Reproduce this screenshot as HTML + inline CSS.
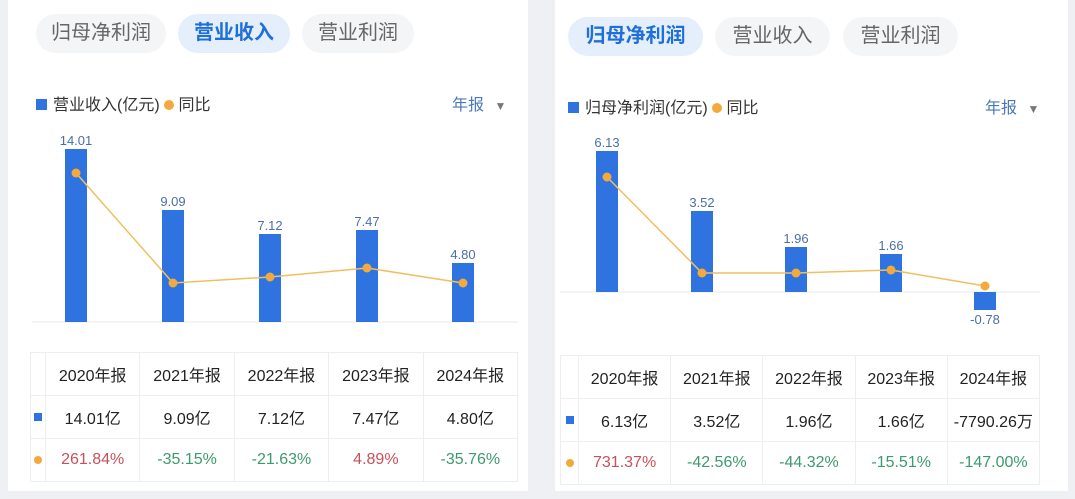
<!DOCTYPE html>
<html><head><meta charset="utf-8"><style>
body{margin:0;width:1075px;height:499px;background:#eef0f3;position:relative;overflow:hidden;font-family:"Liberation Sans","Noto Sans CJK SC",sans-serif}
.card{position:absolute;background:#fff}
.pill{position:absolute;height:39px;border-radius:20px;background:#f4f5f7;color:#666;font-size:20px;line-height:39px;text-align:center}
.pill.a{background:#e5effb;color:#1e6fd9;font-weight:bold}
.a2{position:absolute;font-size:16px;color:#333;white-space:nowrap}
.t{position:absolute;font-size:13px;color:#4a6fa8;text-align:center;width:50px}
table{position:absolute;border-collapse:collapse;font-size:16px;color:#222;table-layout:fixed}
td{border:1px solid #eceef1;text-align:center;padding:0;white-space:nowrap}
.r{color:#c9505a}.g{color:#3c9a6e}
</style></head><body>
<div class="card" style="left:8px;top:0;width:520px;height:491px"></div>
<div class="card" style="left:555px;top:0;width:513px;height:491px"></div>

<div class="pill" style="left:36px;top:14px;width:130px">归母净利润</div>
<div class="pill a" style="left:178px;top:14px;width:112px">营业收入</div>
<div class="pill" style="left:302px;top:14px;width:112px">营业利润</div>

<div class="pill a" style="left:568px;top:17px;width:135px">归母净利润</div>
<div class="pill" style="left:715px;top:17px;width:115px">营业收入</div>
<div class="pill" style="left:843px;top:17px;width:115px">营业利润</div>

<div class="a2" style="left:36px;top:91px"><span style="display:inline-block;width:11px;height:11px;background:#2f73e0;margin-right:6px"></span>营业收入(亿元) <span style="display:inline-block;width:10px;height:10px;border-radius:5px;background:#f3a93b"></span> 同比</div>
<div class="a2" style="left:452px;top:91px;color:#4a78b8">年报 <span style="color:#777;font-size:12px;margin-left:6px">▼</span></div>
<div class="a2" style="left:568px;top:94px"><span style="display:inline-block;width:11px;height:11px;background:#2f73e0;margin-right:6px"></span>归母净利润(亿元) <span style="display:inline-block;width:10px;height:10px;border-radius:5px;background:#f3a93b"></span> 同比</div>
<div class="a2" style="left:985px;top:94px;color:#4a78b8">年报 <span style="color:#777;font-size:12px;margin-left:6px">▼</span></div>

<svg style="position:absolute;left:0;top:0" width="1075" height="499">
<line x1="32" y1="322" x2="518" y2="322" stroke="#e6e8eb"/>
<g fill="#2f73e0">
<rect x="65" y="149" width="22" height="173"/><rect x="162" y="210" width="22" height="112"/><rect x="259" y="234" width="22" height="88"/><rect x="356" y="230" width="22" height="92"/><rect x="452" y="263" width="22" height="59"/>
</g>
<polyline points="76,173 173,283 270,277 367,268 463,283" fill="none" stroke="#efc060" stroke-width="1.5"/>
<g fill="#f3a93b"><circle cx="76" cy="173" r="4.5"/><circle cx="173" cy="283" r="4.5"/><circle cx="270" cy="277" r="4.5"/><circle cx="367" cy="268" r="4.5"/><circle cx="463" cy="283" r="4.5"/></g>
<line x1="560" y1="292" x2="1040" y2="292" stroke="#e6e8eb"/>
<g fill="#2f73e0">
<rect x="596" y="151" width="22" height="141"/><rect x="691" y="211" width="22" height="81"/><rect x="785" y="247" width="22" height="45"/><rect x="880" y="254" width="22" height="38"/><rect x="974" y="292" width="22" height="18"/>
</g>
<polyline points="607,177 702,273 796,273 891,270 985,286" fill="none" stroke="#efc060" stroke-width="1.5"/>
<g fill="#f3a93b"><circle cx="607" cy="177" r="4.5"/><circle cx="702" cy="273" r="4.5"/><circle cx="796" cy="273" r="4.5"/><circle cx="891" cy="270" r="4.5"/><circle cx="985" cy="286" r="4.5"/></g>
</svg>
<div class="t" style="left:51px;top:133px">14.01</div>
<div class="t" style="left:148px;top:194px">9.09</div>
<div class="t" style="left:245px;top:218px">7.12</div>
<div class="t" style="left:342px;top:214px">7.47</div>
<div class="t" style="left:438px;top:247px">4.80</div>
<div class="t" style="left:582px;top:135px">6.13</div>
<div class="t" style="left:677px;top:195px">3.52</div>
<div class="t" style="left:771px;top:231px">1.96</div>
<div class="t" style="left:866px;top:238px">1.66</div>
<div class="t" style="left:960px;top:312px">-0.78</div>

<table style="left:30px;top:352px;width:488px">
<tr style="height:43px"><td style="width:14px"></td><td>2020年报</td><td>2021年报</td><td>2022年报</td><td>2023年报</td><td>2024年报</td></tr>
<tr style="height:43px"><td><span style="display:inline-block;width:8px;height:8px;background:#2f73e0"></span></td><td>14.01亿</td><td>9.09亿</td><td>7.12亿</td><td>7.47亿</td><td>4.80亿</td></tr>
<tr style="height:43px"><td><span style="display:inline-block;width:8px;height:8px;border-radius:4px;background:#f3a93b"></span></td><td class="r">261.84%</td><td class="g">-35.15%</td><td class="g">-21.63%</td><td class="r">4.89%</td><td class="g">-35.76%</td></tr>
</table>
<table style="left:560px;top:355px;width:480px">
<tr style="height:43px"><td style="width:17px"></td><td>2020年报</td><td>2021年报</td><td>2022年报</td><td>2023年报</td><td>2024年报</td></tr>
<tr style="height:43px"><td><span style="display:inline-block;width:8px;height:8px;background:#2f73e0"></span></td><td>6.13亿</td><td>3.52亿</td><td>1.96亿</td><td>1.66亿</td><td>-7790.26万</td></tr>
<tr style="height:43px"><td><span style="display:inline-block;width:8px;height:8px;border-radius:4px;background:#f3a93b"></span></td><td class="r">731.37%</td><td class="g">-42.56%</td><td class="g">-44.32%</td><td class="g">-15.51%</td><td class="g">-147.00%</td></tr>
</table>
</body></html>
